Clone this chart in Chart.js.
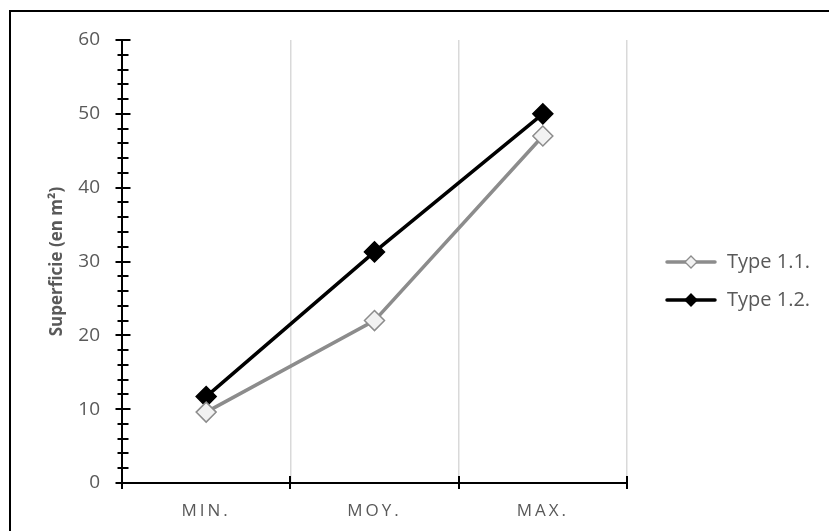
<!DOCTYPE html>
<html>
<head>
<meta charset="utf-8">
<script src="https://cdn.jsdelivr.net/npm/chart.js@4.4.1/dist/chart.umd.min.js"></script>
<style>
  html, body { margin: 0; padding: 0; background: #fff; }
  #wrap { position: relative; width: 829px; height: 531px; overflow: hidden; }
  #frame { position: absolute; left: 9px; top: 10px; width: 830px; height: 530px;
           border-top: 2px solid #000; border-left: 2px solid #000; }
  #chart { position: absolute; left: 0; top: 0; }
</style>
</head>
<body>
<div id="wrap">
  <div id="frame"></div>
  <canvas id="chart" width="829" height="531"></canvas>
</div>
<script>
"use strict";
// data
var categories = ["MIN.", "MOY.", "MAX."];
var seriesNames = ["Type 1.1.", "Type 1.2."];
var type11 = [9.6, 22, 47];
var type12 = [11.7, 31.3, 50];
var yMin = 0, yMax = 60, yStep = 2, yLabelEvery = 10;

var FONT = "'Open Sans', 'DejaVu Sans', sans-serif";
var TEXT = "#595959";

// legend glyph: line with a diamond in the middle
function legendIcon(line, fill, border) {
    var c = document.createElement("canvas");
    c.width = 52; c.height = 16;
    var g = c.getContext("2d");
    g.strokeStyle = line; g.lineWidth = 3.5; g.lineCap = "round";
    g.beginPath(); g.moveTo(2, 8); g.lineTo(50, 8); g.stroke();
    g.beginPath();
    g.moveTo(26, 2); g.lineTo(32, 8); g.lineTo(26, 14); g.lineTo(20, 8); g.closePath();
    g.fillStyle = fill; g.fill();
    g.lineWidth = 1.3; g.strokeStyle = border; g.stroke();
    return c;
}
var icons = [legendIcon("#8c8c8c", "#f2f2f2", "#8c8c8c"), legendIcon("#000", "#000", "#000")];

var excelLook = {
    id: "excelLook",
    afterLayout: function(chart) {
        var lg = chart.legend;
        if (lg) {
            var pad = lg.options.labels.padding;
            var w = lg.right - lg.left, h = lg.bottom - lg.top;
            lg.left = 665 - pad; lg.right = lg.left + w;
            lg.top = 234; lg.bottom = lg.top + h;
        }
        var sx = chart.scales.x;
        if (sx && !sx._spaced) {
            var orig = sx.drawLabels;
            sx.drawLabels = function(area) {
                var ctx = this.ctx;
                ctx.save();
                ctx.letterSpacing = "3px";
                orig.call(this, area);
                ctx.restore();
            };
            sx._spaced = true;
        }
    },
    afterDraw: function(chart) {
        var ctx = chart.ctx, sx = chart.scales.x, sy = chart.scales.y;
        ctx.save();
        ctx.strokeStyle = "#000";
        ctx.lineWidth = 2;
        var ax = Math.round(sy.right) + 0.5;
        sy.ticks.forEach(function(t) {
            var y = Math.round(sy.getPixelForValue(t.value));
            var major = t.value % yLabelEvery === 0;
            ctx.beginPath();
            ctx.moveTo(ax - (major ? 7 : 5), y);
            ctx.lineTo(ax + (major ? 8 : 6), y);
            ctx.stroke();
        });
        var ay = Math.round(sx.top);
        for (var i = 0; i <= categories.length; i++) {
            var x = Math.round(sx.getPixelForValue(i - 0.5));
            ctx.beginPath();
            ctx.moveTo(x, ay - 7);
            ctx.lineTo(x, ay + 6);
            ctx.stroke();
        }
        ctx.restore();
    }
};

var chart = new Chart(document.getElementById("chart").getContext("2d"), {
    type: "line",
    data: {
        labels: categories,
        datasets: [{
            label: seriesNames[0],
            data: type11,
            borderColor: "#8c8c8c",
            borderWidth: 3.5,
            pointStyle: "rectRot",
            pointRadius: 10,
            pointBorderWidth: 1.5,
            pointBackgroundColor: "#f2f2f2",
            pointBorderColor: "#8c8c8c",
            tension: 0
        }, {
            label: seriesNames[1],
            data: type12,
            borderColor: "#000",
            borderWidth: 3.5,
            pointStyle: "rectRot",
            pointRadius: 10,
            pointBorderWidth: 1.5,
            pointBackgroundColor: "#000",
            pointBorderColor: "#000",
            tension: 0
        }]
    },
    options: {
        responsive: false,
        animation: false,
        devicePixelRatio: 1,
        events: [],
        layout: { padding: { left: 0, top: 40, right: 202, bottom: 0 } },
        plugins: {
            tooltip: { enabled: false },
            legend: {
                position: "chartArea",
                align: "start",
                labels: {
                    usePointStyle: true,
                    pointStyleWidth: 52,
                    padding: 18,
                    color: TEXT,
                    font: { family: FONT, size: 20 },
                    generateLabels: function(c) {
                        return c.data.datasets.map(function(d, i) {
                            return {
                                text: d.label,
                                datasetIndex: i,
                                pointStyle: icons[i],
                                fillStyle: d.pointBackgroundColor,
                                strokeStyle: d.borderColor,
                                lineWidth: 0,
                                fontColor: TEXT
                            };
                        });
                    }
                }
            }
        },
        scales: {
            x: {
                type: "category",
                offset: true,
                afterFit: function(s) { s.height = 48; },
                grid: { offset: true, color: "#d9d9d9", lineWidth: 1.5, drawTicks: false },
                border: { display: true, color: "#000", width: 2 },
                ticks: { color: TEXT, padding: 18, font: { family: FONT, size: 17 } }
            },
            y: {
                min: yMin,
                max: yMax,
                afterFit: function(s) { s.width = 122; },
                grid: { drawOnChartArea: false, drawTicks: false },
                border: { display: true, color: "#000", width: 2 },
                ticks: {
                    stepSize: yStep,
                    autoSkip: false,
                    padding: 22,
                    color: TEXT,
                    font: { family: FONT, size: 19 },
                    callback: function(v) { return v % yLabelEvery === 0 ? v : ""; }
                },
                title: {
                    display: true,
                    text: "Superficie (en m²)",
                    color: TEXT,
                    font: { family: FONT, size: 17, weight: "bold" },
                    padding: { top: 47, bottom: 0 }
                }
            }
        }
    },
    plugins: [excelLook]
});
</script>
</body>
</html>
